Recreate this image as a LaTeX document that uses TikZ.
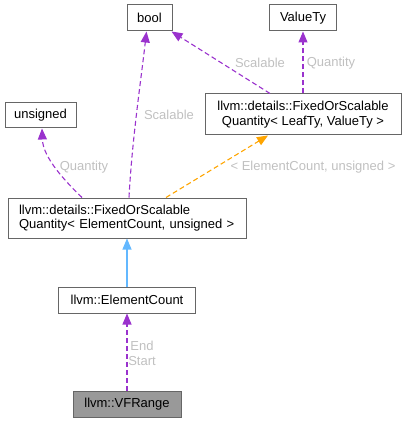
\documentclass[tikz,border=0pt]{standalone}
\usepackage{fontspec}
\setmainfont{Liberation Sans}
\usetikzlibrary{arrows.meta,calc}
\definecolor{purp}{HTML}{9A32CD}
\definecolor{orng}{HTML}{FFA500}
\definecolor{lblue}{HTML}{63B8FF}
\definecolor{bord}{HTML}{666666}
\definecolor{lbl}{HTML}{C0C0C0}
\definecolor{vffill}{HTML}{999999}
\begin{document}
\begin{tikzpicture}[x=1pt,y=-1pt,
  font=\fontsize{13}{14.5}\selectfont,
  box/.style={draw=bord,line width=1pt,fill=white,inner sep=0pt,minimum height=26pt},
  conn/.style={line width=1.1pt,-{Triangle[length=11pt,width=9pt]}},
  usedash/.style={conn,color=purp,dash pattern=on 5pt off 3pt},
  tmpl/.style={conn,color=orng,dash pattern=on 5pt off 3pt},
  inh/.style={conn,color=lblue},
  elab/.style={text=lbl,inner sep=0pt}]
\useasboundingbox (0,0) rectangle (406,422);
\node[box,minimum width=45pt] (bool) at (149.5,18) {bool};
\node[box,minimum width=67pt] (valty) at (303,18) {ValueTy};
\node[box,minimum width=71pt,minimum height=25pt] (uns) at (40.5,115.5) {unsigned};
\node[box,minimum width=196pt,minimum height=41pt,align=center] (leaf) at (303,114.5) {llvm::details::FixedOrScalable\\Quantity< LeafTy, ValueTy >};
\node[box,minimum width=238pt,minimum height=40pt,align=left,text width=216pt] (ecq) at (127,218) {llvm::details::FixedOrScalable\\Quantity< ElementCount, unsigned >};
\node[box,minimum width=137pt] (ec) at (127,300) {llvm::ElementCount};
\node[box,minimum width=108pt,fill=vffill] (vf) at (127,404) {llvm::VFRange};

\draw[usedash] ([xshift=2pt]ecq.north) .. controls (132,140) and (141,80) .. ([xshift=-3pt]bool.south);
\draw[usedash] ([xshift=-33pt]leaf.north) -- ([xshift=-1pt]bool.south east);
\draw[usedash] (leaf.north) -- (leaf.north |- valty.south);
\draw[usedash] ([xshift=-45pt]ecq.north) .. controls (66,182) and (43,158) .. ([xshift=1.5pt]uns.south);
\draw[tmpl] ([xshift=39pt]ecq.north) -- ([xshift=-35pt]leaf.south);
\draw[inh] (ec.north) -- (ec.north |- ecq.south);
\draw[usedash] (vf.north) -- (vf.north |- ec.south);

\node[elab] (l1) at (169,115) {Scalable};
\node[elab] (l2) at (260,63) {Scalable};
\node[elab] (l3) at (331,63) {Quantity};
\node[elab] (l4) at (84,167) {Quantity};
\node[elab] (l5) at (313,167) {< ElementCount, unsigned >};
\node[elab,align=center] (l6) at (142,353.5) {End\\Start};
\end{tikzpicture}
\end{document}
